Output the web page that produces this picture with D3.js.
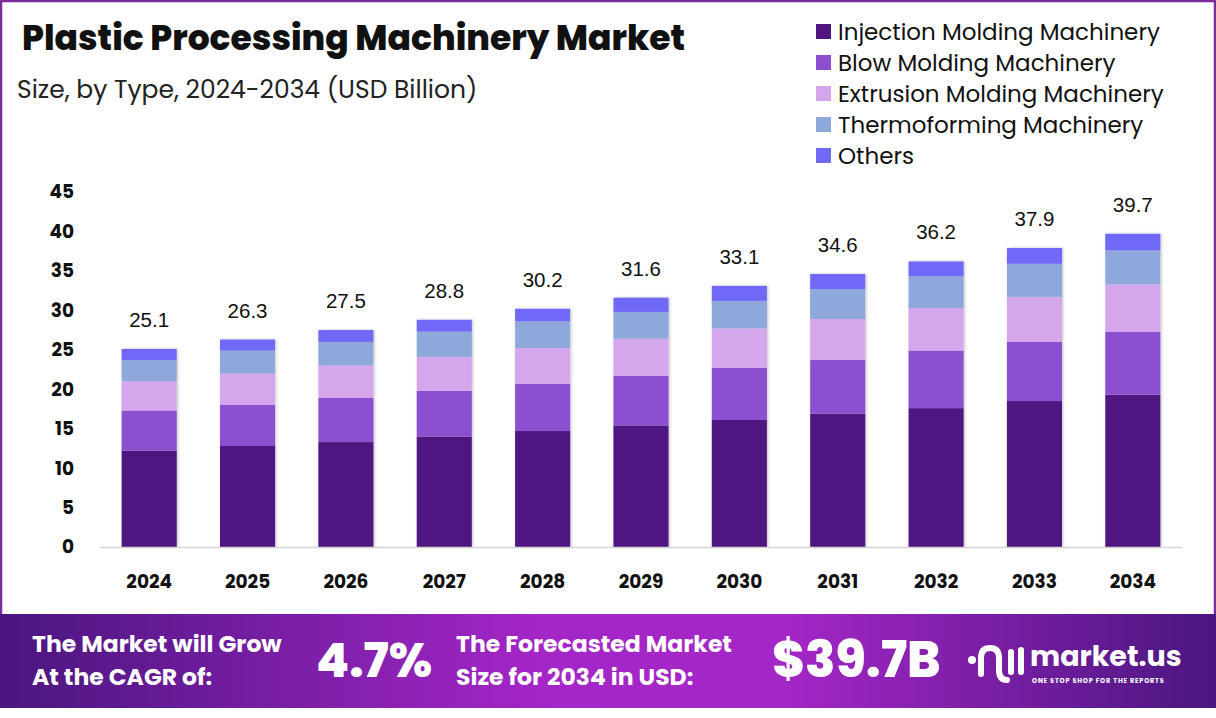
<!DOCTYPE html>
<html lang="en">
<head>
<meta charset="UTF-8">
<script src="https://d3js.org/d3.v7.min.js"></script>
<title>Plastic Processing Machinery Market</title>
<style>
  body { margin: 0; background: #fff; }
  text { font-family: "Poppins", "Lato", "Open Sans", sans-serif; }
</style>
</head>
<body>
<script>
const years = ["2024","2025","2026","2027","2028","2029","2030","2031","2032","2033","2034"];
const seriesNames = ["Injection Molding Machinery","Blow Molding Machinery","Extrusion Molding Machinery","Thermoforming Machinery","Others"];
const injection     = [12.2, 12.8, 13.3, 14.0, 14.7, 15.4, 16.1, 16.9, 17.6, 18.5, 19.3];
const blow          = [5.1, 5.2, 5.6, 5.8, 6.0, 6.3, 6.6, 6.8, 7.3, 7.5, 8.0];
const extrusion     = [3.7, 4.0, 4.1, 4.3, 4.5, 4.7, 5.0, 5.2, 5.4, 5.7, 6.0];
const thermoforming = [2.7, 2.9, 3.0, 3.2, 3.4, 3.4, 3.5, 3.8, 4.0, 4.2, 4.3];
const others        = [1.4, 1.4, 1.5, 1.5, 1.6, 1.8, 1.9, 1.9, 1.9, 2.0, 2.1];
const totals        = [25.1, 26.3, 27.5, 28.8, 30.2, 31.6, 33.1, 34.6, 36.2, 37.9, 39.7];
const yTicks = [0, 5, 10, 15, 20, 25, 30, 35, 40, 45];
const colors = ["#4f1682", "#8b4fd0", "#d4a7ec", "#8fa8dc", "#7069f7"];

const W = 1216, H = 718;
const svg = d3.select("body").append("svg").attr("width", W).attr("height", H);

const defs = svg.append("defs");
const grad = defs.append("linearGradient").attr("id", "foot").attr("x1", "0%").attr("x2", "100%");
grad.append("stop").attr("offset", "0%").attr("stop-color", "#4a167f");
grad.append("stop").attr("offset", "45%").attr("stop-color", "#a526c8");
grad.append("stop").attr("offset", "65%").attr("stop-color", "#a326c6");
grad.append("stop").attr("offset", "100%").attr("stop-color", "#4a167f");
const shadow = defs.append("filter").attr("id", "shadow").attr("x", "-20%").attr("y", "-5%").attr("width", "140%").attr("height", "110%");
shadow.append("feDropShadow").attr("dx", 1).attr("dy", 0).attr("stdDeviation", 1.5).attr("flood-color", "#000").attr("flood-opacity", 0.25);

// frame
svg.append("rect").attr("x", 1).attr("y", 1).attr("width", W - 2).attr("height", 640)
  .attr("fill", "none").attr("stroke", "#7a2c9a").attr("stroke-width", 2.5);

// title
svg.append("text").attr("x", 22).attr("y", 50).attr("font-size", 34.5).attr("font-weight", 800)
  .attr("fill", "#111").text("Plastic Processing Machinery Market");
svg.append("text").attr("x", 17).attr("y", 98).attr("font-size", 25).attr("fill", "#222")
  .text("Size, by Type, 2024-2034 (USD Billion)");

// scales
const x = d3.scaleBand().domain(years).range([100, 1182]).paddingInner(0.44).paddingOuter(0.22);
const y = d3.scaleLinear().domain([0, 45]).range([547, 192]);

const table = years.map((yr, i) => ({
  year: yr,
  [seriesNames[0]]: injection[i],
  [seriesNames[1]]: blow[i],
  [seriesNames[2]]: extrusion[i],
  [seriesNames[3]]: thermoforming[i],
  [seriesNames[4]]: others[i]
}));
const stacked = d3.stack().keys(seriesNames)(table);

// bars
const barsG = svg.append("g").attr("filter", "url(#shadow)");
stacked.forEach((layer, k) => {
  barsG.selectAll(null).data(layer).enter().append("rect")
    .attr("x", d => x(d.data.year))
    .attr("width", x.bandwidth())
    .attr("y", d => y(d[1]))
    .attr("height", d => y(d[0]) - y(d[1]))
    .attr("fill", colors[k]);
});

// baseline
svg.append("line").attr("x1", 100).attr("x2", 1182).attr("y1", 547.5).attr("y2", 547.5)
  .attr("stroke", "#d4d4d4").attr("stroke-width", 1.5);

// y axis
const yAxis = svg.append("g").attr("transform", "translate(74,0)")
  .call(d3.axisLeft(y).tickValues(yTicks).tickSize(0).tickPadding(0));
yAxis.select(".domain").remove();
yAxis.selectAll("text").attr("font-size", 18.5).attr("font-weight", 700).attr("fill", "#111")
  .style("font-family", '"Poppins","Lato",sans-serif');

// x axis
const xAxis = svg.append("g").attr("transform", "translate(0,574)")
  .call(d3.axisBottom(x).tickSize(0).tickPadding(0));
xAxis.select(".domain").remove();
xAxis.selectAll("text").attr("font-size", 18.5).attr("font-weight", 700).attr("fill", "#111")
  .attr("dy", "0.75em").style("font-family", '"Poppins","Lato",sans-serif');

// total labels
svg.selectAll(".tot").data(years).enter().append("text")
  .attr("x", d => x(d) + x.bandwidth() / 2)
  .attr("y", (d, i) => y(totals[i]) - 22)
  .attr("text-anchor", "middle").attr("font-size", 20.5).attr("fill", "#111")
  .style("font-family", '"Liberation Sans", Arial, sans-serif')
  .text((d, i) => totals[i].toFixed(1));

// legend
const leg = svg.append("g").attr("transform", "translate(816,24)");
seriesNames.forEach((n, i) => {
  const g = leg.append("g").attr("transform", `translate(0,${i * 31})`);
  g.append("rect").attr("width", 15).attr("height", 15).attr("fill", colors[i]);
  g.append("text").attr("x", 22).attr("y", 15.5).attr("font-size", 23).attr("fill", "#111").text(n);
});

// footer
svg.append("rect").attr("x", 0).attr("y", 614).attr("width", W).attr("height", 94).attr("fill", "url(#foot)");
const ft = svg.append("g").attr("fill", "#fff").attr("font-weight", 700);
ft.append("text").attr("x", 32).attr("y", 652).attr("font-size", 23.5).text("The Market will Grow");
ft.append("text").attr("x", 32).attr("y", 685).attr("font-size", 23.5).text("At the CAGR of:");
ft.append("text").attr("x", 316).attr("y", 677).attr("font-size", 48).attr("font-weight", 800).text("4.7%");
ft.append("text").attr("x", 456).attr("y", 652).attr("font-size", 23.5).text("The Forecasted Market");
ft.append("text").attr("x", 456).attr("y", 685).attr("font-size", 23.5).text("Size for 2034 in USD:");
ft.append("text").attr("x", 772).attr("y", 677).attr("font-size", 50).attr("font-weight", 800).text("$39.7B");

// logo
const logo = svg.append("g").attr("transform", "translate(965,640)");
logo.append("circle").attr("cx", 7).attr("cy", 20).attr("r", 4).attr("fill", "#fff");
logo.append("path").attr("d", "M16,34 L16,18 Q16,8 25,8 Q34,8 34,18 L34,30 Q34,40 42,40")
  .attr("fill", "none").attr("stroke", "#fff").attr("stroke-width", 6).attr("stroke-linecap", "round");
logo.append("line").attr("x1", 46).attr("x2", 46).attr("y1", 12).attr("y2", 32)
  .attr("stroke", "#fff").attr("stroke-width", 6).attr("stroke-linecap", "round");
logo.append("line").attr("x1", 56).attr("x2", 56).attr("y1", 10).attr("y2", 32)
  .attr("stroke", "#fff").attr("stroke-width", 6).attr("stroke-linecap", "round");
ft.append("text").attr("x", 1030).attr("y", 666).attr("font-size", 28.5).attr("font-weight", 700).text("market.us");
ft.append("text").attr("x", 1032).attr("y", 683).attr("font-size", 6.5).attr("letter-spacing", 0.8).text("ONE STOP SHOP FOR THE REPORTS");
</script>
</body>
</html>
